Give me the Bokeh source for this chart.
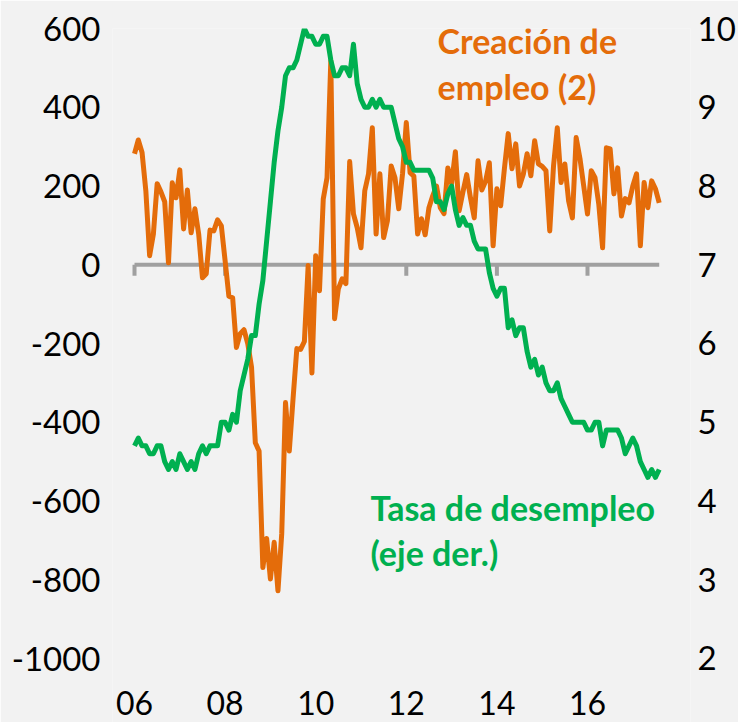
from bokeh.plotting import figure
from bokeh.models import Range1d, LinearAxis, FixedTicker, Label, ColumnDataSource
from bokeh.core.properties import value
from bokeh.embed import file_html
from bokeh.resources import INLINE

# ---------------- data (monthly, Jan 2006 - Aug 2017) ----------------
start_year = 2006
empleo = [
    282, 317, 285, 188, 23, 78, 206, 185, 160, 5, 208, 170,          # 2006
    241, 91, 190, 81, 142, 78, -33, -23, 88, 86, 114, 99,            # 2007
    10, -80, -84, -210, -175, -165, -200, -260, -452, -473, -769, -695,  # 2008
    -798, -705, -828, -683, -350, -473, -340, -213, -215, -195, -2, -275,  # 2009
    23, -66, 167, 221, 518, -137, -61, -36, -48, 262, 129, 94,       # 2010
    43, 188, 231, 348, 78, 231, 69, 112, 251, 221, 142, 231,         # 2011
    361, 234, 225, 78, 117, 76, 145, 175, 200, 145, 130, 246,        # 2012
    206, 287, 137, 185, 229, 170, 119, 264, 190, 212, 259, 48,       # 2013
    193, 150, 245, 333, 244, 307, 200, 230, 282, 226, 315, 256,      # 2014
    250, 239, 86, 251, 348, 209, 256, 162, 119, 323, 270, 200,       # 2015
    129, 239, 221, 153, 43, 297, 294, 180, 246, 124, 168, 157,       # 2016
    200, 231, 48, 209, 145, 213, 193, 157,                           # 2017
]
desempleo = [
    4.7, 4.8, 4.7, 4.7, 4.6, 4.6, 4.7, 4.7, 4.5, 4.4, 4.5, 4.4,
    4.6, 4.5, 4.4, 4.5, 4.4, 4.6, 4.7, 4.6, 4.7, 4.7, 4.7, 5.0,
    5.0, 4.9, 5.1, 5.0, 5.4, 5.6, 5.8, 6.1, 6.1, 6.5, 6.8, 7.3,
    7.8, 8.3, 8.7, 9.0, 9.4, 9.5, 9.5, 9.6, 9.8, 10.0, 9.9, 9.9,
    9.8, 9.8, 9.9, 9.9, 9.6, 9.4, 9.4, 9.5, 9.5, 9.4, 9.8, 9.3,
    9.1, 9.0, 9.0, 9.1, 9.0, 9.1, 9.0, 9.0, 9.0, 8.8, 8.6, 8.5,
    8.3, 8.3, 8.2, 8.2, 8.2, 8.2, 8.2, 8.1, 7.8, 7.8, 7.7, 7.9,
    8.0, 7.7, 7.5, 7.6, 7.5, 7.5, 7.3, 7.2, 7.2, 7.2, 6.9, 6.7,
    6.6, 6.7, 6.7, 6.2, 6.3, 6.1, 6.2, 6.2, 5.9, 5.7, 5.8, 5.6,
    5.7, 5.5, 5.4, 5.4, 5.5, 5.3, 5.2, 5.1, 5.0, 5.0, 5.0, 5.0,
    4.9, 4.9, 5.0, 5.0, 4.7, 4.9, 4.9, 4.9, 4.9, 4.8, 4.6, 4.7,
    4.8, 4.7, 4.5, 4.4, 4.3, 4.4, 4.3, 4.4,
]
tick_years = [2006, 2008, 2010, 2012, 2014, 2016]
tick_labels = ["06", "08", "10", "12", "14", "16"]
left_ticks = [-1000, -800, -600, -400, -200, 0, 200, 400, 600]
right_ticks = [2, 3, 4, 5, 6, 7, 8, 9, 10]

x = [start_year + i / 12 for i in range(len(empleo))]

ORANGE = "#E46C0A"
GREEN = "#00B050"
BG = "#F2F2F2"
AXIS_GREY = "#A0A0A0"
FONT = "Lato"

p = figure(
    width=738, height=722,
    output_backend="svg", toolbar_location=None,
    x_range=Range1d(2005.514, 2018.274),
    y_range=Range1d(-1162.5, 600),
    x_axis_location=None,
    min_border_left=112, min_border_right=48,
    min_border_top=28, min_border_bottom=0,
    background_fill_color=BG, border_fill_color=BG,
    outline_line_color=None,
)
p.grid.visible = False
p.extra_y_ranges = {"tasa": Range1d(1.187, 10)}

# left axis
ya = p.yaxis[0]
ya.ticker = FixedTicker(ticks=left_ticks)
ya.major_label_overrides = {t: str(t) for t in left_ticks}
ya.axis_line_color = None
ya.major_tick_line_color = None
ya.minor_tick_line_color = None
ya.major_tick_out = 0
ya.major_tick_in = 0
ya.major_label_standoff = 12
ya.major_label_text_font = FONT
ya.major_label_text_font_size = "33px"
ya.major_label_text_color = "#000000"

# right axis
ra = LinearAxis(y_range_name="tasa", ticker=FixedTicker(ticks=right_ticks))
ra.axis_line_color = None
ra.major_tick_line_color = None
ra.minor_tick_line_color = None
ra.major_tick_out = 0
ra.major_tick_in = 0
ra.major_label_standoff = 7
ra.major_label_text_font = FONT
ra.major_label_text_font_size = "33px"
ra.major_label_text_color = "#000000"
p.add_layout(ra, "right")

# horizontal axis crossing at zero, with tick marks
tick_len = 28  # in left-axis units
p.segment(x0=[x[0]], y0=[0], x1=[x[-1]], y1=[0], line_color=AXIS_GREY, line_width=4)
p.segment(x0=tick_years, y0=[0] * len(tick_years), x1=tick_years,
          y1=[-tick_len] * len(tick_years), line_color=AXIS_GREY, line_width=4)

# category labels at the bottom
lab_src = ColumnDataSource(dict(x=tick_years, y=[-1114] * len(tick_years), t=tick_labels))
p.text(x="x", y="y", text="t", source=lab_src, text_font=value(FONT),
       text_font_size=value("32px"), text_align="center", text_baseline="middle",
       text_color="#000000")

# series
src = ColumnDataSource(dict(x=x, e=empleo, u=desempleo))
p.line(x="x", y="e", source=src, line_color=ORANGE, line_width=5, line_join="round")
p.line(x="x", y="u", source=src, y_range_name="tasa", line_color=GREEN,
       line_width=5, line_join="round")

# annotations
for txt, yy in (("Creación de", 569), ("empleo (2)", 452)):
    p.add_layout(Label(x=2012.69, y=yy, text=txt, text_font=FONT, text_font_size="34px",
                       text_font_style="bold", text_color=ORANGE, text_baseline="middle"))
for txt, yy in (("Tasa de desempleo", -617), ("(eje der.)", -731)):
    p.add_layout(Label(x=2011.21, y=yy, text=txt, text_font=FONT, text_font_size="34px",
                       text_font_style="bold", text_color=GREEN, text_baseline="middle"))

open("out.html", "w").write(file_html(p, INLINE))
